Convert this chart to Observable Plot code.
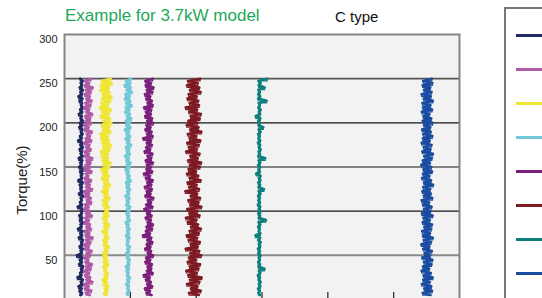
<!DOCTYPE html>
<html>
<head>
<meta charset="utf-8">
<script src="https://cdn.jsdelivr.net/npm/d3@7"></script>
<script src="https://cdn.jsdelivr.net/npm/@observablehq/plot@0.6"></script>
<style>
  html, body { margin: 0; padding: 0; background: #fff; overflow: hidden; }
  #wrap { position: relative; width: 542px; height: 298px; overflow: hidden; font-family: "Liberation Sans", Arial, sans-serif; }
  #title { position: absolute; left: 65px; top: 5px; font-size: 17px; line-height: 22px; color: #1ea85a; white-space: nowrap; }
  #subtitle { position: absolute; left: 335px; top: 8px; font-size: 15px; line-height: 18px; color: #111; white-space: nowrap; }
  #ylabel { position: absolute; left: 22px; top: 180px; font-size: 15px; line-height: 18px; color: #222; white-space: nowrap; transform: translate(-50%, -50%) rotate(-90deg); }
  #chart { position: absolute; left: 0; top: 0; }
  #legend { position: absolute; left: 504px; top: 7px; width: 150px; height: 340px; border: 2px solid #777; box-sizing: border-box; background: #fff; }
  .sw { position: absolute; left: 10px; width: 40px; height: 3px; }
  .lt { position: absolute; left: 56px; font-size: 12px; line-height: 14px; white-space: nowrap; color: #222; }
</style>
</head>
<body>
<div id="wrap">
  <div id="chart"></div>
  <div id="title">Example for 3.7kW model</div>
  <div id="subtitle">C type</div>
  <div id="ylabel">Torque(%)</div>
  <div id="legend"></div>
</div>
<script>
// Torque levels (%) at which the speed was sampled (bottom to top)
const torque = [5,7.5,10,12.5,15,17.5,20,22.5,25,27.5,30,32.5,35,37.5,40,42.5,45,47.5,50,52.5,
  55,57.5,60,62.5,65,67.5,70,72.5,75,77.5,80,82.5,85,87.5,90,92.5,95,97.5,100,102.5,
  105,107.5,110,112.5,115,117.5,120,122.5,125,127.5,130,132.5,135,137.5,140,142.5,145,147.5,150,152.5,
  155,157.5,160,162.5,165,167.5,170,172.5,175,177.5,180,182.5,185,187.5,190,192.5,195,197.5,200,202.5,
  205,207.5,210,212.5,215,217.5,220,222.5,225,227.5,230,232.5,235,237.5,240,242.5,245,247.5,250];

// Series (set speed, r/min) and the read-off centre speed of each trace
const seriesNames = ["120 r/min","170 r/min","310 r/min","480 r/min","640 r/min","980 r/min","1480 r/min","2750 r/min"];
const centers = [128, 174, 312, 482, 640, 980, 1480, 2752];
const colors = ["#1f2a5e","#b05aa8","#efe535","#72c8d8","#7a1f7a","#7d1a22","#0f7f7d","#1a4ca0"];

// Speed fluctuation (r/min) around each centre, bottom to top
const devNavy = [-8,6,-15,3,-22,10,-5,12,-30,2, -10,8,-4,14,-18,5,-12,9,-35,4, -6,11,-14,7,-3,13,-20,6,-9,10,
  -26,3,-7,12,-12,8,-16,5,-4,10, -28,7,-11,4,-6,13,-19,9,-8,5, -13,11,-24,6,-5,9,-10,14,-17,3,
  -9,8,-21,10,-6,5,-14,12,-8,7, -25,4,-11,10,-5,9,-16,6,-12,13, -7,4,-20,8,-10,11,-4,6,-15,9, -22,5,-8,12,-13,7,-6,10,-9];
const devPink = [18,-12,30,-20,10,-25,38,-8,22,-18, 14,-28,26,-10,35,-15,8,-22,20,-6, 32,-18,12,-26,24,-10,40,-14,16,-20,
  28,-8,20,-24,12,-16,34,-12,22,-28, 10,-18,30,-6,26,-20,14,-24,36,-10, 18,-16,28,-22,8,-12,32,-26,20,-14,
  24,-8,38,-18,12,-22,26,-10,16,-28, 30,-14,20,-6,34,-20,10,-24,28,-12, 22,-18,36,-10,14,-26,24,-16,32,-8, 18,-22,26,-12,40,-20,14,-16,28];
const devYellow = [8,-12,16,-6,20,-15,10,-22,14,-8, 18,-10,6,-18,22,-12,12,-16,8,-20, 15,-6,24,-14,10,-18,20,-8,12,-24,
  16,-10,28,-12,8,-20,22,-15,18,-6, 26,-18,12,-22,30,-10,16,-26,20,-14, 34,-12,18,-28,24,-20,14,-32,28,-16,
  38,-22,20,-30,16,-36,30,-18,42,-24, 26,-34,18,-40,36,-20,28,-30,44,-16, 32,-38,24,-26,40,-44,20,-32,36,-28, 46,-22,30,-40,26,-36,48,-30,38];
const devCyan = [6,-10,12,-5,8,-14,10,-6,15,-9, 5,-12,9,-16,11,-4,14,-8,7,-13, 10,-6,16,-11,4,-9,12,-15,8,-7,
  13,-10,6,-18,15,-5,9,-12,11,-8, 18,-14,7,-10,12,-20,9,-6,16,-12, 10,-16,22,-8,13,-11,6,-18,14,-9,
  20,-13,8,-22,15,-10,11,-16,24,-7, 12,-19,17,-12,9,-24,20,-14,13,-17, 26,-10,16,-22,12,-18,28,-15,19,-24, 14,-20,30,-12,22,-26,18,-16,24];
const devPurple = [22,-18,10,-30,26,-12,16,-22,8,-40, 30,-15,20,-10,24,-26,12,-20,34,-8, 18,-28,14,-16,28,-12,20,-45,10,-22,
  26,-18,32,-10,16,-24,22,-14,12,-34, 28,-20,18,-8,36,-26,14,-16,24,-30, 20,-12,30,-22,10,-38,26,-18,16,-14,
  32,-24,20,-10,28,-32,12,-20,24,-16, 18,-42,30,-14,22,-26,14,-18,34,-12, 26,-28,16,-22,20,-36,30,-10,24,-20, 12,-30,28,-16,36,-24,18,-26,30];
const devRed = [40,-35,55,-20,30,-50,45,-28,62,-40, 25,-55,38,-30,50,-45,20,-35,58,-25, 44,-60,32,-22,48,-38,28,-52,40,-30,
  56,-20,35,-45,22,-58,46,-32,30,-48, 60,-26,38,-40,50,-22,28,-62,42,-34, 24,-46,54,-30,36,-50,20,-38,48,-28,
  58,-42,32,-24,46,-56,26,-36,40,-48, 52,-30,22,-44,60,-26,38,-52,30,-40, 48,-22,56,-34,28,-60,42,-30,36,-46, 24,-38,54,-28,44,-50,32,-42,50];
const devTeal = [6,-8,4,-10,8,-5,10,-7,5,-12, 8,-4,40,-8,6,-10,4,-6,9,-8, 5,-11,7,-5,10,-9,6,-30,8,-6,
  4,-10,8,-7,50,-5,6,-9,10,-6, 7,-12,5,-8,4,-10,9,-6,35,-7, 6,-9,8,-5,10,-25,4,-8,6,-10,
  8,-6,45,-9,5,-7,10,-5,6,-11, 7,-8,4,-10,9,-6,30,-7,5,-9, 8,-28,6,-5,10,-8,4,-6,55,-10, 7,-9,5,-8,40,-6,10,-7,60];
const devBlue = [28,-32,40,-20,34,-38,22,-28,45,-25, 30,-40,18,-30,36,-22,42,-35,26,-18, 38,-28,20,-42,32,-24,46,-30,24,-36,
  34,-20,40,-32,22,-26,44,-38,28,-22, 36,-30,18,-40,42,-24,30,-34,26,-28, 48,-22,32,-36,20,-30,40,-26,34,-42,
  24,-32,38,-20,46,-34,28,-24,36,-40, 22,-30,42,-28,30,-36,26,-22,44,-32, 34,-26,20,-38,40,-30,28,-34,46,-24, 30,-40,36,-22,26,-32,42,-28,38];
const deviations = [devNavy, devPink, devYellow, devCyan, devPurple, devRed, devTeal, devBlue];

// Axis ticks
const yTicks = [50,100,150,200,250,300];
const xTicks = [0,500,1000,1500,2000,2500,3000];

const rows = [];
seriesNames.forEach((s, i) => {
  const dev = deviations[i];
  const n = Math.min(dev.length, torque.length);
  for (let j = 0; j < n; j++) rows.push({series: s, speed: centers[i] + dev[j], torque: torque[j]});
});

const chart = Plot.plot({
  width: 542,
  height: 339,
  marginLeft: 64,
  marginRight: 83,
  marginTop: 34,
  marginBottom: 40,
  style: {fontFamily: "'Liberation Sans', Arial, sans-serif", fontSize: "11px", background: "transparent", color: "#222"},
  x: {domain: [0, 3000], axis: null},
  y: {domain: [0, 300], axis: null},
  color: {domain: seriesNames, range: colors},
  marks: [
    Plot.frame({fill: "#f2f2f2"}),
    Plot.ruleY([250], {stroke: "#555", strokeWidth: 1.6}),
    Plot.ruleY([100, 150, 200], {stroke: "#151515", strokeWidth: 1.2}),
    Plot.ruleY([50], {stroke: "#8a8a8a", strokeWidth: 2}),
    Plot.ruleX(xTicks.slice(1, -1), {y1: 0, y2: 8, stroke: "#222", strokeWidth: 1.2}),
    Plot.line(rows, {x: "speed", y: "torque", z: "series", stroke: "series", strokeWidth: 2.5}),
    Plot.line(rows, {x: "speed", y: "torque", z: "series", stroke: "series", strokeWidth: 1.2, curve: "step-after"}),
    Plot.frame({stroke: "#858585", strokeWidth: 2}),
    Plot.axisY(yTicks, {tickSize: 0, tickPadding: 7, dy: 5, fontSize: 11, fill: "#222", label: null})
  ]
});
document.getElementById("chart").appendChild(chart);

// Legend: swatches, with their labels running past the picture's right edge
const legend = document.getElementById("legend");
seriesNames.forEach((s, i) => {
  const sw = document.createElement("div");
  sw.className = "sw";
  sw.style.top = (25 + i * 34) + "px";
  sw.style.background = colors[i];
  legend.appendChild(sw);
  const t = document.createElement("div");
  t.className = "lt";
  t.textContent = s;
  t.style.top = (19 + i * 34) + "px";
  legend.appendChild(t);
});
</script>
</body>
</html>
